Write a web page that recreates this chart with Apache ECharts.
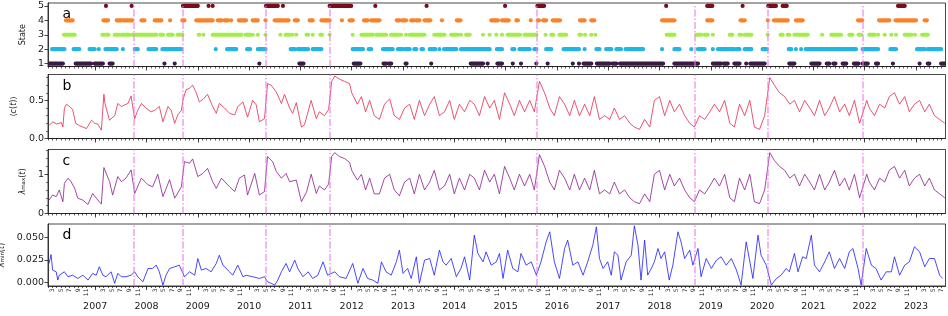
<!DOCTYPE html>
<html><head><meta charset="utf-8">
<script src="https://cdn.jsdelivr.net/npm/echarts@6/dist/echarts.min.js"></script>
<style>html,body{margin:0;padding:0;background:#fff}#chart{width:948px;height:316px}</style>
</head><body><div id="chart"></div>
<script>
// ---------------- data ----------------
const xMin = 2006.08, xMax = 2023.575;
const yearLabels = [2007,2008,2009,2010,2011,2012,2013,2014,2015,2016,2017,2018,2019,2020,2021,2022,2023];
const monthLabels = [3,5,7,9,11];
const stateTicks = [1,2,3,4,5];
const eventTimes = [2007.76,2008.70,2010.33,2011.57,2015.60,2018.68,2020.11,2021.96];

// state runs: [start, end] (decimal years)
const state5Runs = [[2007.21,2007.21],[2007.71,2007.71],[2008.71,2009.00],[2009.21,2009.21],[2009.29,2009.29],[2010.33,2010.56],[2010.66,2010.66],[2011.57,2011.99],[2012.46,2012.46],[2013.46,2013.46],[2014.99,2014.99],[2015.62,2015.75],[2018.13,2018.13],[2018.93,2019.03],[2019.62,2019.62],[2020.12,2020.27],[2020.40,2020.48],[2022.65,2022.78]];
const state4Runs = [[2006.43,2006.56],[2007.16,2007.25],[2007.42,2007.51],[2007.55,2007.72],[2007.90,2007.96],[2008.16,2008.29],[2008.46,2008.46],[2008.70,2008.74],[2008.97,2009.29],[2009.39,2009.46],[2009.52,2009.59],[2009.65,2009.65],[2009.80,2009.94],[2010.07,2010.17],[2010.32,2010.32],[2010.50,2010.74],[2010.77,2010.77],[2010.89,2010.95],[2011.18,2011.24],[2011.41,2011.57],[2011.81,2011.81],[2011.96,2012.02],[2012.24,2012.31],[2012.38,2012.54],[2012.88,2012.93],[2012.98,2013.06],[2013.16,2013.21],[2013.26,2013.32],[2013.42,2013.53],[2013.76,2013.76],[2014.05,2014.12],[2014.72,2014.85],[2014.93,2015.06],[2015.21,2015.24],[2015.49,2015.49],[2015.63,2015.65],[2015.73,2015.79],[2015.92,2016.06],[2016.45,2016.54],[2016.67,2016.73],[2018.05,2018.29],[2018.93,2019.03],[2019.58,2019.66],[2020.11,2020.11],[2020.23,2020.50],[2020.66,2020.79],[2021.87,2021.95],[2022.28,2022.48],[2022.60,2023.00],[2023.17,2023.21]];
const state3Runs = [[2006.39,2006.60],[2007.14,2007.16],[2007.21,2007.26],[2007.38,2007.46],[2007.51,2007.67],[2007.72,2008.19],[2008.27,2008.32],[2008.42,2008.51],[2008.61,2008.70],[2009.02,2009.03],[2009.11,2009.11],[2009.29,2009.85],[2009.93,2010.04],[2010.07,2010.07],[2010.17,2010.17],[2010.32,2010.32],[2010.61,2010.61],[2010.71,2010.79],[2010.84,2010.84],[2010.92,2010.92],[2011.12,2011.15],[2011.24,2011.24],[2011.39,2011.42],[2011.57,2011.57],[2012.02,2012.02],[2012.19,2012.41],[2012.48,2012.67],[2012.77,2012.92],[2012.96,2012.96],[2013.06,2013.06],[2013.13,2013.42],[2013.61,2013.81],[2013.94,2014.07],[2014.13,2014.13],[2014.23,2014.30],[2014.56,2014.56],[2014.69,2014.69],[2014.82,2014.82],[2014.93,2014.93],[2015.04,2015.28],[2015.37,2015.60],[2015.78,2015.78],[2015.89,2015.93],[2016.05,2016.18],[2016.44,2016.47],[2016.55,2016.55],[2016.67,2016.67],[2016.75,2016.75],[2018.14,2018.29],[2018.72,2018.81],[2018.88,2018.94],[2019.04,2019.04],[2019.37,2019.42],[2019.56,2019.59],[2019.66,2019.79],[2020.11,2020.11],[2020.36,2020.40],[2020.50,2020.53],[2020.63,2020.89],[2021.17,2021.17],[2021.35,2021.54],[2021.70,2021.76],[2021.88,2021.93],[2022.09,2022.19],[2022.26,2022.26],[2022.39,2022.39],[2022.52,2022.52],[2022.61,2022.61],[2022.78,2022.91],[2022.98,2022.98],[2023.12,2023.23]];
const state2Runs = [[2006.16,2006.40],[2006.58,2006.69],[2006.89,2006.99],[2007.07,2007.07],[2007.20,2007.42],[2007.54,2007.54],[2007.77,2007.83],[2008.04,2008.19],[2008.31,2008.68],[2009.35,2009.35],[2009.57,2009.75],[2009.96,2010.02],[2010.17,2010.32],[2010.81,2010.89],[2010.95,2011.15],[2011.24,2011.41],[2012.02,2012.22],[2012.33,2012.38],[2012.61,2012.80],[2012.90,2013.00],[2013.05,2013.13],[2013.22,2013.26],[2013.36,2013.39],[2013.52,2013.63],[2013.71,2013.71],[2013.80,2014.04],[2014.13,2014.69],[2014.83,2014.93],[2015.13,2015.17],[2015.27,2015.47],[2015.56,2015.60],[2015.79,2015.89],[2016.13,2016.43],[2016.54,2016.54],[2016.77,2016.83],[2016.96,2017.06],[2017.16,2017.25],[2017.34,2017.68],[2018.05,2018.05],[2018.29,2018.39],[2018.62,2018.62],[2018.75,2018.88],[2019.04,2019.04],[2019.14,2019.46],[2019.51,2019.56],[2019.66,2019.79],[2020.01,2020.09],[2020.52,2020.57],[2020.66,2020.66],[2020.76,2020.76],[2020.85,2021.83],[2021.96,2022.26],[2022.50,2022.61],[2023.02,2023.17],[2023.23,2023.49]];
const state1Runs = [[2006.08,2006.37],[2006.62,2006.92],[2006.99,2007.15],[2007.28,2007.34],[2008.35,2008.35],[2008.55,2008.55],[2010.20,2010.20],[2010.98,2011.06],[2012.04,2012.17],[2012.62,2012.67],[2012.72,2012.77],[2013.05,2013.07],[2013.55,2013.55],[2014.32,2014.56],[2014.65,2014.65],[2014.84,2014.93],[2015.14,2015.14],[2015.30,2015.30],[2015.60,2015.60],[2015.82,2015.82],[2016.31,2016.31],[2016.43,2016.43],[2016.52,2016.67],[2016.78,2017.03],[2017.08,2017.16],[2017.23,2018.07],[2018.29,2018.75],[2019.04,2019.20],[2019.25,2019.33],[2019.46,2019.56],[2019.69,2019.69],[2019.77,2020.05],[2020.53,2020.63],[2020.96,2021.12],[2021.26,2021.31],[2021.39,2021.43],[2021.57,2021.64],[2021.79,2021.88],[2021.96,2022.06],[2022.22,2022.26],[2022.55,2022.55],[2023.07,2023.07],[2023.23,2023.26],[2023.49,2023.56]];

// <c(t)>
const meanCorr = [[2006.10,0.17],[2006.17,0.22],[2006.25,0.19],[2006.34,0.21],[2006.37,0.15],[2006.40,0.40],[2006.44,0.45],[2006.50,0.42],[2006.56,0.38],[2006.62,0.20],[2006.69,0.17],[2006.83,0.13],[2006.93,0.24],[2006.99,0.20],[2007.05,0.19],[2007.12,0.11],[2007.17,0.58],[2007.19,0.46],[2007.28,0.24],[2007.38,0.30],[2007.44,0.46],[2007.51,0.42],[2007.57,0.44],[2007.64,0.46],[2007.70,0.56],[2007.73,0.42],[2007.77,0.26],[2007.83,0.37],[2007.90,0.46],[2007.99,0.40],[2008.09,0.35],[2008.16,0.37],[2008.25,0.42],[2008.32,0.22],[2008.42,0.42],[2008.48,0.37],[2008.55,0.20],[2008.61,0.31],[2008.68,0.37],[2008.71,0.50],[2008.77,0.64],[2008.84,0.66],[2008.90,0.70],[2008.97,0.60],[2009.03,0.48],[2009.11,0.52],[2009.19,0.58],[2009.29,0.42],[2009.36,0.33],[2009.42,0.46],[2009.52,0.40],[2009.62,0.33],[2009.72,0.31],[2009.78,0.42],[2009.88,0.48],[2009.97,0.28],[2010.07,0.50],[2010.14,0.44],[2010.20,0.22],[2010.30,0.26],[2010.36,0.72],[2010.43,0.70],[2010.53,0.61],[2010.63,0.46],[2010.69,0.58],[2010.79,0.40],[2010.85,0.33],[2010.92,0.47],[2011.02,0.15],[2011.08,0.18],[2011.21,0.50],[2011.31,0.26],[2011.37,0.35],[2011.47,0.30],[2011.55,0.38],[2011.61,0.75],[2011.67,0.82],[2011.76,0.78],[2011.86,0.75],[2011.96,0.72],[2012.00,0.60],[2012.11,0.45],[2012.19,0.55],[2012.27,0.35],[2012.35,0.50],[2012.44,0.30],[2012.54,0.25],[2012.64,0.45],[2012.74,0.52],[2012.83,0.30],[2012.93,0.25],[2013.03,0.40],[2013.13,0.45],[2013.22,0.25],[2013.32,0.50],[2013.42,0.30],[2013.52,0.45],[2013.61,0.55],[2013.71,0.30],[2013.81,0.35],[2013.91,0.50],[2014.00,0.25],[2014.10,0.45],[2014.20,0.35],[2014.30,0.50],[2014.39,0.45],[2014.49,0.30],[2014.59,0.55],[2014.69,0.40],[2014.78,0.50],[2014.88,0.25],[2014.98,0.60],[2015.08,0.45],[2015.17,0.30],[2015.27,0.50],[2015.37,0.35],[2015.47,0.50],[2015.56,0.35],[2015.66,0.75],[2015.76,0.60],[2015.86,0.40],[2015.95,0.30],[2016.05,0.55],[2016.15,0.45],[2016.25,0.30],[2016.34,0.50],[2016.44,0.30],[2016.54,0.45],[2016.64,0.30],[2016.73,0.55],[2016.83,0.25],[2016.93,0.30],[2017.03,0.25],[2017.12,0.40],[2017.22,0.25],[2017.32,0.30],[2017.42,0.20],[2017.51,0.15],[2017.61,0.12],[2017.71,0.25],[2017.81,0.15],[2017.90,0.50],[2018.00,0.55],[2018.10,0.30],[2018.20,0.50],[2018.29,0.35],[2018.39,0.45],[2018.49,0.30],[2018.59,0.20],[2018.68,0.15],[2018.78,0.30],[2018.88,0.25],[2018.98,0.35],[2019.07,0.45],[2019.17,0.35],[2019.27,0.50],[2019.37,0.20],[2019.46,0.15],[2019.56,0.45],[2019.66,0.30],[2019.76,0.50],[2019.85,0.15],[2019.95,0.12],[2020.05,0.30],[2020.15,0.80],[2020.24,0.70],[2020.34,0.60],[2020.44,0.55],[2020.54,0.45],[2020.63,0.50],[2020.73,0.35],[2020.83,0.50],[2020.93,0.40],[2021.02,0.30],[2021.12,0.50],[2021.22,0.30],[2021.31,0.40],[2021.41,0.55],[2021.51,0.35],[2021.61,0.45],[2021.70,0.30],[2021.80,0.50],[2021.90,0.20],[2022.04,0.50],[2022.09,0.40],[2022.19,0.30],[2022.29,0.45],[2022.39,0.40],[2022.48,0.55],[2022.58,0.60],[2022.68,0.45],[2022.78,0.55],[2022.87,0.35],[2022.97,0.45],[2023.07,0.50],[2023.17,0.35],[2023.26,0.45],[2023.36,0.30],[2023.46,0.25],[2023.56,0.20]];

// lambda_max(t)
const lambdaMax = [[2006.10,0.34],[2006.17,0.47],[2006.24,0.43],[2006.30,0.60],[2006.37,0.30],[2006.40,0.77],[2006.47,0.90],[2006.53,0.81],[2006.60,0.64],[2006.66,0.39],[2006.76,0.34],[2006.86,0.23],[2006.95,0.51],[2007.02,0.39],[2007.12,0.24],[2007.17,1.17],[2007.28,0.81],[2007.34,0.47],[2007.44,0.94],[2007.51,0.81],[2007.60,0.90],[2007.70,1.11],[2007.77,0.51],[2007.90,0.90],[2008.03,0.73],[2008.12,0.68],[2008.22,1.00],[2008.32,0.43],[2008.45,0.86],[2008.55,0.39],[2008.68,0.68],[2008.74,1.32],[2008.84,1.28],[2008.90,1.39],[2009.00,0.94],[2009.10,1.02],[2009.19,1.15],[2009.29,0.81],[2009.36,0.64],[2009.46,0.90],[2009.62,0.68],[2009.72,0.56],[2009.81,0.90],[2009.91,0.98],[2009.97,0.47],[2010.11,1.02],[2010.20,0.47],[2010.30,0.56],[2010.36,1.45],[2010.46,1.32],[2010.53,1.07],[2010.63,0.90],[2010.72,1.02],[2010.79,0.81],[2010.92,0.85],[2011.02,0.30],[2011.12,0.55],[2011.21,1.00],[2011.31,0.51],[2011.37,0.70],[2011.47,0.60],[2011.55,0.75],[2011.61,1.45],[2011.67,1.55],[2011.76,1.45],[2011.86,1.40],[2011.96,1.30],[2012.00,1.10],[2012.11,0.85],[2012.19,1.00],[2012.27,0.60],[2012.35,0.90],[2012.44,0.50],[2012.54,0.50],[2012.64,0.90],[2012.74,1.00],[2012.83,0.60],[2012.93,0.45],[2013.03,0.80],[2013.13,0.90],[2013.22,0.50],[2013.32,1.00],[2013.42,0.60],[2013.52,0.80],[2013.61,1.10],[2013.71,0.60],[2013.81,0.70],[2013.91,1.00],[2014.00,0.50],[2014.10,0.90],[2014.20,0.60],[2014.30,1.00],[2014.39,0.90],[2014.49,0.60],[2014.59,1.10],[2014.69,0.80],[2014.78,1.00],[2014.88,0.50],[2014.98,1.20],[2015.08,0.90],[2015.17,0.60],[2015.27,1.00],[2015.37,0.70],[2015.47,1.00],[2015.56,0.60],[2015.66,1.50],[2015.76,1.20],[2015.86,0.80],[2015.95,0.60],[2016.05,1.10],[2016.15,0.90],[2016.25,0.60],[2016.34,1.00],[2016.44,0.60],[2016.54,0.90],[2016.64,0.60],[2016.73,1.10],[2016.83,0.50],[2016.93,0.60],[2017.03,0.50],[2017.12,0.80],[2017.22,0.50],[2017.32,0.60],[2017.42,0.40],[2017.51,0.30],[2017.61,0.25],[2017.71,0.50],[2017.81,0.30],[2017.90,1.00],[2018.00,1.10],[2018.10,0.60],[2018.20,1.00],[2018.29,0.70],[2018.39,0.90],[2018.49,0.60],[2018.59,0.40],[2018.68,0.30],[2018.78,0.60],[2018.88,0.50],[2018.98,0.70],[2019.07,0.90],[2019.17,0.70],[2019.27,1.00],[2019.37,0.40],[2019.46,0.30],[2019.56,0.90],[2019.66,0.60],[2019.76,1.00],[2019.85,0.30],[2019.95,0.25],[2020.05,0.60],[2020.15,1.55],[2020.24,1.35],[2020.34,1.20],[2020.44,1.10],[2020.54,0.90],[2020.63,1.00],[2020.73,0.70],[2020.83,1.00],[2020.93,0.80],[2021.02,0.60],[2021.12,1.00],[2021.22,0.60],[2021.31,0.80],[2021.41,1.10],[2021.51,0.70],[2021.61,0.90],[2021.70,0.60],[2021.80,1.00],[2021.90,0.40],[2022.04,1.00],[2022.09,0.80],[2022.19,0.60],[2022.29,0.90],[2022.39,0.80],[2022.48,1.10],[2022.58,1.20],[2022.68,0.90],[2022.78,1.10],[2022.87,0.70],[2022.97,0.90],[2023.07,1.00],[2023.17,0.70],[2023.26,0.90],[2023.36,0.60],[2023.46,0.50],[2023.56,0.40]];

// lambda_min(t)
const lambdaMin = [[2006.10,0.021],[2006.14,0.031],[2006.17,0.0137],[2006.24,0.0118],[2006.27,0.0026],[2006.30,0.008],[2006.40,0.0118],[2006.47,0.0063],[2006.56,0.008],[2006.66,0.0044],[2006.76,0.008],[2006.86,0.0026],[2006.95,0.010],[2007.02,0.008],[2007.08,0.0174],[2007.15,0.008],[2007.21,0.0063],[2007.31,0.0118],[2007.38,-0.001],[2007.44,0.010],[2007.51,0.0063],[2007.60,0.0063],[2007.70,0.008],[2007.77,0.0118],[2007.83,0.0063],[2007.93,0.0007],[2008.03,0.0155],[2008.12,0.0155],[2008.19,0.0192],[2008.25,0.0118],[2008.32,-0.003],[2008.38,0.008],[2008.45,0.0155],[2008.55,0.0174],[2008.64,0.0192],[2008.74,0.0063],[2008.84,0.0118],[2008.94,0.008],[2009.00,0.0266],[2009.07,0.0137],[2009.16,0.0155],[2009.26,0.0118],[2009.36,0.0211],[2009.42,0.0303],[2009.49,0.0192],[2009.62,0.0118],[2009.68,0.008],[2009.78,0.0192],[2009.88,0.0063],[2009.94,0.008],[2010.07,0.0063],[2010.20,0.0044],[2010.30,0.0063],[2010.36,0.0007],[2010.43,-0.001],[2010.50,-0.003],[2010.56,0.0026],[2010.63,0.0118],[2010.72,0.0211],[2010.79,0.0118],[2010.89,0.0248],[2010.95,0.0155],[2011.05,0.0063],[2011.15,0.0118],[2011.24,0.0044],[2011.34,0.008],[2011.44,0.0229],[2011.53,0.008],[2011.67,0.0118],[2011.76,0.0063],[2011.89,0.0044],[2012.02,0.0211],[2012.12,-0.001],[2012.22,0.0155],[2012.31,0.0044],[2012.41,0.0026],[2012.51,-0.001],[2012.58,0.0229],[2012.67,0.0118],[2012.77,0.008],[2012.87,0.0229],[2012.93,0.0359],[2013.00,0.010],[2013.09,0.0155],[2013.16,0.0044],[2013.26,0.0285],[2013.32,-0.001],[2013.42,0.0248],[2013.52,0.0266],[2013.61,0.008],[2013.71,0.0359],[2013.78,0.0229],[2013.84,0.0192],[2013.94,0.0266],[2014.04,0.0063],[2014.13,0.0155],[2014.20,0.0285],[2014.30,0.0026],[2014.39,0.0526],[2014.46,0.0322],[2014.56,0.0229],[2014.62,0.034],[2014.72,0.0192],[2014.82,0.0229],[2014.88,0.0322],[2014.95,0.0044],[2015.04,0.0359],[2015.14,0.0155],[2015.24,0.0118],[2015.30,0.0322],[2015.40,0.0192],[2015.50,0.0229],[2015.60,0.008],[2015.69,0.0229],[2015.79,0.0451],[2015.86,0.0563],[2015.95,0.0229],[2016.05,0.0044],[2016.15,0.0377],[2016.21,0.047],[2016.31,0.0192],[2016.41,0.0229],[2016.51,0.008],[2016.60,0.0229],[2016.70,0.0414],[2016.77,0.0618],[2016.83,0.0266],[2016.90,0.0155],[2016.99,0.0229],[2017.06,0.008],[2017.12,0.034],[2017.19,0.0303],[2017.25,0.0026],[2017.35,0.0229],[2017.45,0.0303],[2017.51,0.063],[2017.58,0.0414],[2017.64,0.0026],[2017.71,0.047],[2017.77,0.0081],[2017.84,0.0155],[2017.90,0.0229],[2017.97,0.0377],[2018.03,0.0266],[2018.10,0.034],[2018.19,0.0026],[2018.26,0.0192],[2018.36,0.0563],[2018.42,0.0451],[2018.49,0.0266],[2018.59,0.0359],[2018.65,0.0192],[2018.75,0.0377],[2018.81,0.0063],[2018.91,0.0266],[2019.01,0.0155],[2019.11,0.0248],[2019.20,0.0285],[2019.30,0.0192],[2019.40,0.0266],[2019.50,0.0137],[2019.59,-0.003],[2019.69,0.0451],[2019.75,0.0266],[2019.82,0.0044],[2019.92,0.0526],[2019.98,0.0303],[2020.08,0.0192],[2020.18,-0.003],[2020.28,0.0044],[2020.37,0.008],[2020.47,0.0155],[2020.53,0.0118],[2020.63,0.0322],[2020.70,0.0118],[2020.79,0.0285],[2020.86,0.0266],[2020.96,0.0526],[2021.02,0.0192],[2021.12,0.0118],[2021.22,0.0229],[2021.31,0.034],[2021.41,0.0155],[2021.51,0.0266],[2021.61,0.0155],[2021.70,0.034],[2021.77,0.0377],[2021.87,0.0155],[2021.93,-0.003],[2022.03,0.0377],[2022.13,0.0192],[2022.22,0.0155],[2022.32,0.0026],[2022.42,0.0118],[2022.52,0.0118],[2022.58,0.0285],[2022.68,0.008],[2022.78,0.0192],[2022.87,0.0229],[2022.97,0.0396],[2023.07,0.034],[2023.17,0.0174],[2023.26,0.0266],[2023.36,0.0266],[2023.46,0.008],[2023.52,0.0044]];

// ---------------- chart ----------------
const FONT = 'DejaVu Sans';
const INK = '#1a1a1a';
const stateColors = {1:'#3b1a44', 2:'#22b5e8', 3:'#a2ee46', 4:'#fb8228', 5:'#7a0c1c'};

const monthTickValues = [];
const monthLabelValues = [];
for (let y = 2006; y <= 2023; y++) {
  for (let m = 1; m <= 12; m++) {
    const v = y + (m - 1) / 12;
    if (v >= xMin && v <= xMax) {
      monthTickValues.push(v);
      if (monthLabels.includes(m)) monthLabelValues.push(v);
    }
  }
}
const monthOf = v => Math.round((((v % 1) + 1) % 1) * 12) + 1;

const grids = [
  {left: 48, right: 2.5, top: 3, height: 63.5},
  {left: 48, right: 2.5, top: 74.5, height: 64},
  {left: 48, right: 2.5, top: 149.5, height: 64},
  {left: 48, right: 2.5, top: 224, height: 62}
].map(g => Object.assign(g, {show: true, borderColor: INK, borderWidth: 0.8, backgroundColor: '#fff',
  containLabel: false, outerBoundsMode: 'none'}));

const xAxes = [];
grids.forEach((g, gi) => {
  const last = gi === grids.length - 1;
  xAxes.push({
    type: 'value', gridIndex: gi, min: xMin, max: xMax, position: 'bottom',
    axisLine: {show: true, onZero: false, lineStyle: {color: INK, width: 0.8}},
    axisTick: {show: true, customValues: monthTickValues, length: 2, lineStyle: {color: INK, width: 0.7}},
    axisLabel: {show: last, customValues: monthLabelValues, rotate: 90, fontSize: 6, margin: 2.5, color: INK, fontFamily: FONT,
      formatter: v => String(monthOf(v))},
    splitLine: {show: false}
  });
  xAxes.push({
    type: 'value', gridIndex: gi, min: xMin, max: xMax, position: 'bottom', offset: 0,
    axisLine: {show: false, onZero: false},
    axisTick: {show: true, customValues: yearLabels, length: 4, lineStyle: {color: INK, width: 0.8}},
    axisLabel: {show: last, customValues: yearLabels, fontSize: 9.5, margin: 16, color: INK, fontFamily: FONT,
      formatter: v => String(Math.round(v))},
    splitLine: {show: false}
  });
});

const nameStyle = {fontSize: 8, color: INK, fontFamily: FONT};
const lblStyle = {fontSize: 9.5, color: INK, fontFamily: FONT, margin: 4};
const subRich = {
  n: {fontSize: 8, fontFamily: FONT, color: INK},
  i: {fontSize: 8, fontStyle: 'italic', fontFamily: FONT, color: INK},
  s: {fontSize: 5.5, fontFamily: FONT, color: INK, verticalAlign: 'bottom'}
};
const yAxes = [
  {type: 'value', gridIndex: 0, min: 0.8, max: 5.2, position: 'left',
    axisLine: {show: true, lineStyle: {color: INK, width: 0.8}},
    axisTick: {show: true, customValues: stateTicks, length: 3.5, lineStyle: {color: INK, width: 0.8}},
    axisLabel: Object.assign({customValues: stateTicks}, lblStyle),
    splitLine: {show: false},
    name: 'State', nameLocation: 'middle', nameGap: 16, nameTextStyle: nameStyle},
  {type: 'value', gridIndex: 1, min: 0, max: 0.84, position: 'left',
    axisLine: {show: true, lineStyle: {color: INK, width: 0.8}},
    axisTick: {show: true, customValues: [0, 0.5], length: 3.5, lineStyle: {color: INK, width: 0.8}},
    axisLabel: Object.assign({customValues: [0, 0.5], formatter: v => v.toFixed(1)}, lblStyle),
    splitLine: {show: false},
    name: '{n|⟨}{i|c}{n|(}{i|t}{n|)⟩}', nameLocation: 'middle', nameGap: 24,
    nameTextStyle: Object.assign({rich: subRich}, nameStyle)},
  {type: 'value', gridIndex: 1, min: 0, max: 0.84, position: 'left', offset: 0,
    axisLine: {show: false}, axisLabel: {show: false}, splitLine: {show: false},
    axisTick: {show: true, customValues: [0.1, 0.2, 0.3, 0.4, 0.6, 0.7, 0.8], length: 2, lineStyle: {color: INK, width: 0.6}}},
  {type: 'value', gridIndex: 2, min: 0, max: 1.63, position: 'left',
    axisLine: {show: true, lineStyle: {color: INK, width: 0.8}},
    axisTick: {show: true, customValues: [0, 1], length: 3.5, lineStyle: {color: INK, width: 0.8}},
    axisLabel: Object.assign({customValues: [0, 1], formatter: v => String(v)}, lblStyle),
    splitLine: {show: false},
    name: '{i|λ}{s|max}{n|(}{i|t}{n|)}', nameLocation: 'middle', nameGap: 15,
    nameTextStyle: Object.assign({rich: subRich}, nameStyle)},
  {type: 'value', gridIndex: 2, min: 0, max: 1.63, position: 'left', offset: 0,
    axisLine: {show: false}, axisLabel: {show: false}, splitLine: {show: false},
    axisTick: {show: true, customValues: [0.2, 0.4, 0.6, 0.8, 1.2, 1.4, 1.6], length: 2, lineStyle: {color: INK, width: 0.6}}},
  {type: 'value', gridIndex: 3, min: -0.004, max: 0.065, position: 'left',
    axisLine: {show: true, lineStyle: {color: INK, width: 0.8}},
    axisTick: {show: true, customValues: [0, 0.025, 0.05], length: 3.5, lineStyle: {color: INK, width: 0.8}},
    axisLabel: Object.assign({customValues: [0, 0.025, 0.05], formatter: v => v.toFixed(3)}, lblStyle),
    splitLine: {show: false},
    name: '{i|λ}{s|min}{n|(}{i|t}{n|)}', nameLocation: 'middle', nameGap: 33,
    nameTextStyle: Object.assign({rich: subRich}, nameStyle)}
];

const eventMark = {
  silent: true, symbol: ['none', 'none'], label: {show: false}, animation: false,
  lineStyle: {color: 'rgba(236,120,236,0.55)', width: 2, type: [7, 2, 1.5, 2]},
  emphasis: {disabled: true},
  data: eventTimes.map(t => ({xAxis: t}))
};

const stateData = [];
[[1, state1Runs], [2, state2Runs], [3, state3Runs], [4, state4Runs], [5, state5Runs]].forEach(([s, runs]) => {
  runs.forEach(r => stateData.push([r[0], r[1], s]));
});

const series = [
  {type: 'custom', xAxisIndex: 0, yAxisIndex: 0, clip: true, silent: true,
    encode: {x: [0, 1], y: 2},
    renderItem: (params, api) => {
      const s = api.value(2);
      const p0 = api.coord([api.value(0), s]);
      const p1 = api.coord([api.value(1), s]);
      const r = 2.1;
      return {type: 'rect', shape: {x: p0[0] - r, y: p0[1] - r, width: p1[0] - p0[0] + 2 * r, height: 2 * r, r: r},
        style: {fill: stateColors[s]}};
    },
    data: stateData},
  {type: 'scatter', xAxisIndex: 0, yAxisIndex: 0, symbolSize: 0, silent: true, data: [[xMin, 3]], markLine: eventMark, z: 5},
  {type: 'line', xAxisIndex: 2, yAxisIndex: 1, data: meanCorr, showSymbol: false, silent: true,
    lineStyle: {color: '#e3284c', width: 0.8}, markLine: eventMark},
  {type: 'line', xAxisIndex: 4, yAxisIndex: 3, data: lambdaMax, showSymbol: false, silent: true,
    lineStyle: {color: '#8a1a8e', width: 0.8}, markLine: eventMark},
  {type: 'line', xAxisIndex: 6, yAxisIndex: 5, data: lambdaMin, showSymbol: false, silent: true,
    lineStyle: {color: '#1a1aff', width: 0.8}, markLine: eventMark}
];

const panelLetters = ['a', 'b', 'c', 'd'];
const graphic = panelLetters.map((t, i) => ({
  type: 'text', left: 62.5, top: grids[i].top + 4.5, silent: true,
  style: {text: t, font: '14px "DejaVu Sans"', fill: '#000'}
}));

const chart = echarts.init(document.getElementById('chart'), null, {renderer: 'canvas'});
chart.setOption({
  animation: false,
  backgroundColor: '#fff',
  textStyle: {fontFamily: FONT},
  grid: grids,
  xAxis: xAxes,
  yAxis: yAxes,
  series: series,
  graphic: graphic
});
</script>
</body></html>
